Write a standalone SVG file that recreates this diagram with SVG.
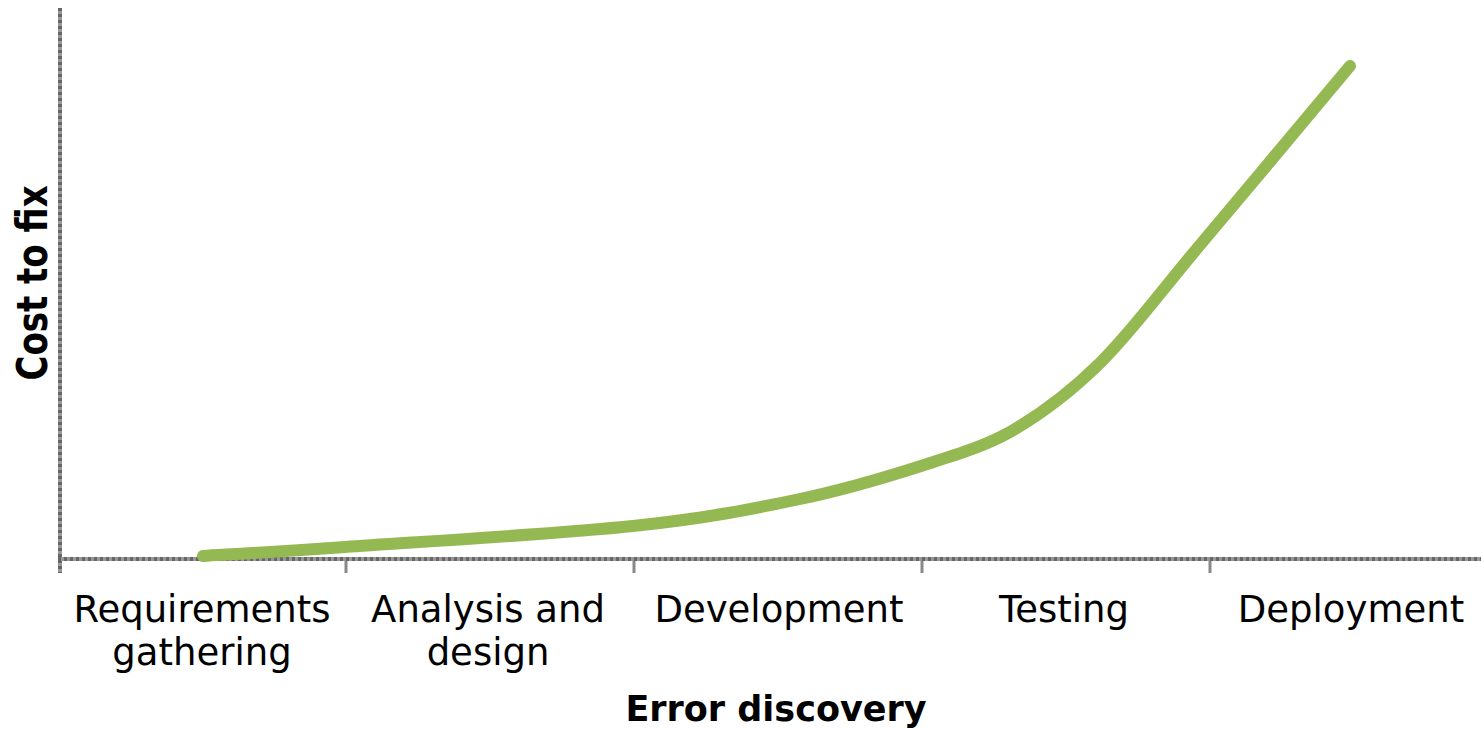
<svg xmlns="http://www.w3.org/2000/svg" width="1481" height="729" viewBox="0 0 1481 729">
<style>
.lbl{font-family:"DejaVu Sans",Verdana,sans-serif;font-size:37px;fill:#000;text-anchor:middle}
.ttl{font-family:"DejaVu Sans",Verdana,sans-serif;font-size:35px;font-weight:bold;fill:#000;text-anchor:middle}
.ax{stroke:#999;stroke-width:4;fill:none}
.axd{stroke:#666;stroke-width:4;stroke-dasharray:3 3;fill:none}
.tick{stroke:#888;stroke-width:3}
.curve{fill:none;stroke:#94b953;stroke-width:12;stroke-linecap:round;stroke-linejoin:round}
</style>
<rect width="1481" height="729" fill="#fff"/>
<g id="axes">
<line class="ax" x1="60" y1="8" x2="60" y2="573"/>
<line class="axd" x1="60" y1="8" x2="60" y2="573"/>
<line class="ax" x1="58" y1="559" x2="1481" y2="559"/>
<line class="axd" x1="58" y1="559" x2="1481" y2="559"/>
<line class="tick" x1="346" y1="561" x2="346" y2="573"/>
<line class="tick" x1="634" y1="561" x2="634" y2="573"/>
<line class="tick" x1="922" y1="561" x2="922" y2="573"/>
<line class="tick" x1="1210" y1="561" x2="1210" y2="573"/>
</g>
<g id="connectors">
<path class="curve" d="M203,556 C226.7,554.5 273.3,552 345,547 C416.7,542 557.2,534 633,526 C708.8,518 752,509 800,499 C848,489 886,477.2 921,466 C956,454.8 983,447 1010,432 C1039.8,415 1068.3,394.2 1100,363 C1131.7,331.8 1158.3,294.5 1200,245 C1241.7,195.5 1325,95.8 1350,66"/>
</g>
<g id="labels">
<text class="lbl" x="202" y="622">Requirements</text>
<text class="lbl" x="202" y="665">gathering</text>
<text class="lbl" x="488" y="622">Analysis and</text>
<text class="lbl" x="488" y="665">design</text>
<text class="lbl" x="779" y="622">Development</text>
<text class="lbl" x="1064" y="622">Testing</text>
<text class="lbl" x="1351" y="622">Deployment</text>
<text class="ttl" x="776" y="721">Error discovery</text>
<text class="ttl" transform="translate(47,283) rotate(-90) scale(1,1.25)" x="0" y="0" style="font-size:34px">Cost to fix</text>
</g>
</svg>
